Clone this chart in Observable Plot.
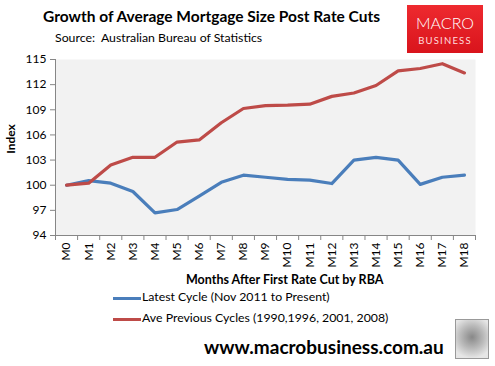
<!DOCTYPE html>
<html><head><meta charset="utf-8">
<script src="https://cdn.jsdelivr.net/npm/d3@7"></script>
<script src="https://cdn.jsdelivr.net/npm/@observablehq/plot@0.6"></script>
<style>
body{margin:0;background:#fff;}
#wrap{position:relative;width:495px;height:366px;overflow:hidden;font-family:Lato, "Open Sans", sans-serif;color:#000;}
#wrap svg{position:absolute;left:0;top:0;}
.abs{position:absolute;white-space:nowrap;line-height:1;}
</style></head><body><div id="wrap"></div>
<script>
const months = ["M0","M1","M2","M3","M4","M5","M6","M7","M8","M9","M10","M11","M12","M13","M14","M15","M16","M17","M18"];
const latestCycle = [100.0,100.55,100.24,99.25,96.7,97.1,98.7,100.35,101.2,100.95,100.7,100.6,100.2,103.0,103.33,103.0,100.1,100.95,101.2];
const previousCycles = [100.0,100.24,102.4,103.33,103.33,105.15,105.4,107.45,109.15,109.5,109.55,109.67,110.6,111.0,111.9,113.65,113.93,114.5,113.4];
const yTicks = [94,97,100,103,106,109,112,115];
const seriesNames = ["Latest Cycle (Nov 2011 to Present)", "Ave Previous Cycles (1990,1996, 2001, 2008)"];
const seriesColors = ["#4a7ebb", "#be4b48"];

const rows = months.flatMap((m, i) => [
  {i, m, v: latestCycle[i], s: seriesNames[0]},
  {i, m, v: previousCycles[i], s: seriesNames[1]}
]);

const chart = Plot.plot({
  width: 495, height: 366,
  marginLeft: 55, marginRight: 20, marginTop: 59, marginBottom: 131,
  x: {domain: [-0.5, 18.5]},
  y: {domain: [94, 115]},
  color: {domain: seriesNames, range: seriesColors},
  style: {fontFamily: "Lato, 'Open Sans', sans-serif", fontSize: "12px", color: "#000", background: "transparent"},
  marks: [
    Plot.frame({fill: "#f2f2f2", stroke: null}),
    Plot.axisY(yTicks, {tickSize: 5, tickPadding: 4, stroke: "#868686", label: null, fontSize: 12}),
    Plot.axisX(d3.range(-0.5, 19, 1), {tickSize: 5, tickFormat: () => "", stroke: "#868686", label: null}),
    Plot.axisX(d3.range(19), {tickSize: 0, tickPadding: 7, tickRotate: -90, tickFormat: i => months[i], label: null, fontSize: 12}),
    Plot.ruleX([-0.5], {stroke: "#868686"}),
    Plot.ruleY([94], {stroke: "#868686"}),
    Plot.line(rows, {x: "i", y: "v", z: "s", stroke: "s", strokeWidth: 3.2, curve: "linear"})
  ]
});
const wrap = document.getElementById("wrap");
wrap.appendChild(chart);

function add(html, style) {
  const d = document.createElement("div");
  d.className = "abs";
  d.innerHTML = html;
  Object.assign(d.style, style);
  wrap.appendChild(d);
  return d;
}
add("Growth of Average Mortgage Size Post Rate Cuts", {left: "43px", top: "9px", fontSize: "15.5px", fontWeight: "bold"});
add("Source:&nbsp; Australian Bureau of Statistics", {left: "55px", top: "32px", fontSize: "12.3px"});
add("Index", {left: "-6px", top: "133px", fontSize: "12px", fontWeight: "bold", transform: "rotate(-90deg)", transformOrigin: "center", width: "34px", textAlign: "center"});
add("Months After First Rate Cut by RBA", {left: "186px", top: "274px", fontSize: "12.5px", fontWeight: "bold"});
seriesNames.forEach((n, k) => {
  add("", {left: "113px", top: (297 + k * 21) + "px", width: "28px", height: "3px", background: seriesColors[k]});
  add(n, {left: "142px", top: (291 + k * 21) + "px", fontSize: "12.3px"});
});
add("www.macrobusiness.com.au", {left: "204px", top: "337px", fontSize: "19px", fontWeight: "bold"});
// logo
add('<div style="font-size:16px;letter-spacing:0px;font-weight:300;color:#fff;text-align:center;margin-top:10px">MACRO</div><div style="font-size:9.5px;letter-spacing:1.2px;color:#fdd;text-align:center;margin-top:5px">BUSINESS</div>',
  {left: "407px", top: "5px", width: "76px", height: "48px", background: "linear-gradient(#ee2a2f,#d9141c)"});
// wolf badge
add("", {left: "455px", top: "319px", width: "32px", height: "38px", border: "1px solid #999", background: "radial-gradient(circle at 50% 45%, #888 0%, #bbb 45%, #e6e6e6 80%)"});
</script>
</body></html>
